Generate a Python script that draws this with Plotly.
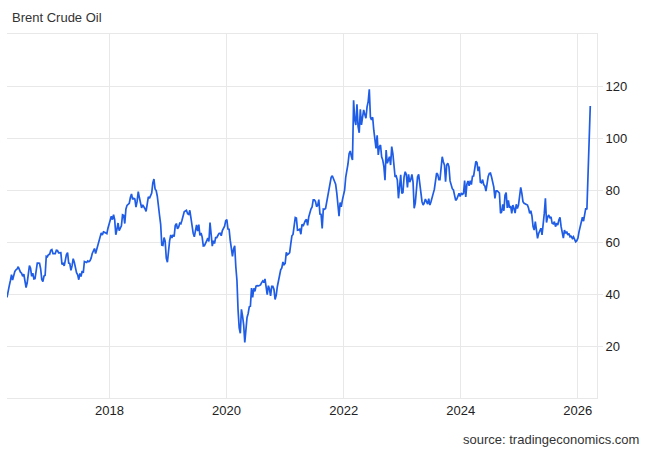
import plotly.graph_objects as go
import pandas as pd

# weekly Brent crude closes (USD/bbl), one list per year
brent_2016 = [38.7, 41.9, 43.1, 45.1, 47.4, 45.4, 47.8, 48.7, 49.3, 49.6,
              50.5, 49.2, 48.4, 48.0, 46.8, 47.6, 45.7, 42.5, 44.3, 46.9,
              50.9, 49.9, 46.8, 48.0, 45.8, 45.9, 49.2, 51.9, 51.9, 51.8,
              49.7, 45.6, 44.8, 46.9, 47.2, 54.5, 54.3, 55.2, 55.2, 56.8]
brent_2017 = [57.1, 55.5, 55.5, 55.5, 56.8, 56.7, 55.8, 56.0, 55.9, 51.4,
              51.8, 50.8, 53.5, 55.2, 55.9, 51.9, 51.7, 49.1, 50.8, 53.6,
              52.2, 49.9, 48.2, 47.4, 45.5, 47.9, 46.7, 48.9, 48.1, 52.5,
              52.4, 52.1, 52.7, 52.4, 52.8, 53.8, 55.6, 56.9, 57.5, 55.6,
              57.2, 57.8, 60.4, 62.1, 63.5, 62.7, 63.9, 63.7, 63.4, 63.2,
              65.3, 66.9]
brent_2018 = [67.6, 69.9, 68.6, 70.5, 68.6, 62.8, 64.8, 67.3, 64.4, 65.5,
              66.2, 70.5, 70.3, 67.1, 72.6, 74.1, 74.6, 74.9, 77.1, 78.5,
              76.4, 76.8, 76.5, 73.4, 75.6, 79.4, 77.1, 75.3, 73.1, 74.3,
              73.2, 72.8, 71.8, 75.8, 77.4, 76.8, 78.1, 78.8, 82.7, 84.2,
              80.4, 79.8, 77.6, 72.8, 70.2, 66.8, 58.8, 58.7, 61.7, 60.3,
              53.8, 52.2]
brent_2019 = [57.1, 60.5, 62.7, 61.6, 62.8, 62.1, 66.3, 67.1, 65.1, 65.7,
              67.2, 67.0, 68.4, 70.3, 71.6, 71.9, 72.2, 70.9, 70.6, 72.2,
              68.7, 64.5, 63.3, 62.0, 65.2, 66.6, 64.2, 66.7, 62.5, 63.5,
              61.9, 58.5, 58.6, 59.3, 60.4, 61.5, 60.2, 67.5, 61.9, 58.4,
              60.5, 59.4, 61.7, 61.7, 62.5, 63.3, 63.4, 62.4, 64.4, 65.2,
              66.1, 68.2]
brent_2020 = [68.6, 65.0, 64.9, 60.7, 58.2, 54.5, 57.3, 58.5, 50.5, 45.3,
              33.9, 27.0, 24.9, 34.1, 31.5, 28.1, 21.4, 26.4, 31.0, 32.5,
              35.1, 35.3, 42.3, 38.7, 42.2, 41.0, 43.0, 43.2, 43.1, 43.3,
              43.5, 44.4, 45.0, 44.4, 45.8, 42.7, 39.8, 43.2, 41.9, 39.3,
              42.9, 42.9, 41.8, 37.9, 39.5, 42.8, 45.0, 48.2, 49.3, 50.0,
              52.3, 51.3]
brent_2021 = [51.8, 56.0, 55.1, 55.4, 55.9, 59.3, 62.4, 62.9, 66.1, 69.4,
              69.2, 64.5, 64.6, 64.9, 63.0, 66.8, 66.1, 67.3, 68.3, 68.7,
              66.4, 69.6, 71.9, 72.7, 73.5, 76.2, 76.2, 75.6, 73.6, 74.1,
              76.3, 70.7, 70.6, 65.2, 72.7, 72.6, 72.9, 75.3, 78.1, 79.3,
              82.4, 84.9, 85.5, 84.4, 82.7, 82.2, 78.9, 72.7, 69.9, 75.2,
              73.5, 76.1, 77.8]
brent_2022 = [80.0, 85.0, 87.0, 90.0, 94.0, 95.0, 93.0, 91.5, 114.5, 107.0,
              105.0, 113.0, 104.5, 102.0, 111.0, 105.0, 108.0, 110.8, 109.0, 107.6,
              112.0, 114.0, 118.7, 108.0, 107.0, 108.0, 103.0, 98.0, 96.0, 101.0,
              93.5, 96.7, 97.3, 92.8, 91.5, 89.0, 83.8, 95.4, 90.3, 91.5,
              92.8, 89.6, 96.7, 94.0, 90.0, 85.0, 85.4, 83.8, 76.8, 82.0,
              85.8, 78.7]
brent_2023 = [79.0, 85.0, 87.0, 86.0, 81.0, 86.0, 83.0, 84.0, 86.0, 83.0,
              73.0, 75.0, 80.0, 85.0, 86.0, 81.5, 80.0, 75.5, 74.2, 75.0,
              76.5, 75.5, 74.6, 76.7, 74.2, 75.5, 76.7, 78.7, 80.3, 84.0,
              86.5, 86.0, 84.0, 84.0, 88.0, 92.8, 90.9, 89.6, 83.2, 89.6,
              90.3, 89.0, 83.5, 81.3, 80.5, 80.0, 78.0, 76.0, 76.5, 77.4,
              78.7, 77.5]
brent_2024 = [78.8, 78.3, 78.6, 83.6, 77.3, 82.2, 83.5, 81.6, 83.6, 82.1,
              85.3, 85.4, 87.5, 91.0, 90.5, 87.3, 89.0, 83.0, 82.8, 84.0,
              82.1, 81.6, 79.6, 82.6, 85.2, 86.4, 86.5, 85.0, 82.6, 81.1,
              76.8, 79.7, 79.7, 79.0, 78.8, 71.1, 71.6, 74.5, 72.0, 78.0,
              79.0, 73.1, 76.0, 73.1, 73.9, 71.0, 74.2, 72.9, 71.1, 74.5,
              72.9, 74.2]
brent_2025 = [79.0, 81.0, 78.7, 75.5, 74.9, 74.7, 74.6, 74.2, 73.0, 71.0,
              72.0, 70.0, 65.9, 64.6, 67.8, 65.3, 61.4, 63.3, 64.5, 65.3,
              62.7, 65.9, 71.0, 76.8, 67.5, 69.7, 70.4, 69.1, 69.7, 67.2,
              67.0, 67.8, 65.9, 67.2, 66.5, 68.5, 69.5, 65.9, 64.0, 61.5,
              64.6, 63.3, 64.0, 62.7, 63.3, 62.0, 62.2, 61.4, 62.0, 60.8,
              60.1, 60.5]
brent_2026 = [61.5, 64.0, 66.0, 68.5, 69.5, 68.0, 70.4, 73.0, 72.5, 86.0,
              101.0, 112.3]

# first Friday of each block
year_blocks = [("2016-04-01", brent_2016), ("2017-01-06", brent_2017),
               ("2018-01-05", brent_2018), ("2019-01-04", brent_2019),
               ("2020-01-03", brent_2020), ("2021-01-01", brent_2021),
               ("2022-01-07", brent_2022), ("2023-01-06", brent_2023),
               ("2024-01-05", brent_2024), ("2025-01-03", brent_2025),
               ("2026-01-02", brent_2026)]

y_ticks = [20, 40, 60, 80, 100, 120]

dates, prices = [], []
for start, vals in year_blocks:
    dates += list(pd.date_range(start, periods=len(vals), freq="W-FRI"))
    prices += vals

grid = "#e8e8e8"
fig = go.Figure(go.Scatter(x=dates, y=prices, mode="lines",
                           line=dict(color="#1f5de6", width=1.7)))

fig.update_layout(
    width=650, height=450,
    margin=dict(l=7, r=53, t=34, b=52),
    paper_bgcolor="white", plot_bgcolor="white",
    font=dict(family="Liberation Sans, Arial, sans-serif", size=13, color="#222"),
    showlegend=False,
    title=dict(text="Brent Crude Oil", x=12/650, xanchor="left",
               y=1-17/450, yanchor="middle", xref="container", yref="container",
               font=dict(size=13, color="#333")),
    xaxis=dict(range=["2016-04-01", "2026-05-01"], tick0="2018-01-01", dtick="M24",
               tickformat="%Y", showgrid=True, gridcolor=grid, gridwidth=1,
               showline=True, linecolor=grid, mirror=True, ticks="",
               zeroline=False),
    yaxis=dict(side="right", range=[0, 140], tickvals=y_ticks,
               showgrid=True, gridcolor=grid, showline=True, linecolor=grid,
               ticks="outside", ticklen=5, tickcolor=grid, zeroline=False),
    annotations=[dict(text="source: tradingeconomics.com", xref="paper", yref="paper",
                      x=(641-7)/590, y=(398-439)/364, xanchor="right", yanchor="middle",
                      showarrow=False, font=dict(size=13, color="#333"))],
)

# page has a default 8px body margin; drop it so the figure fills the window
fig.write_html("out.html", config={"displayModeBar": False},
               post_script="document.body.style.margin='0';")
